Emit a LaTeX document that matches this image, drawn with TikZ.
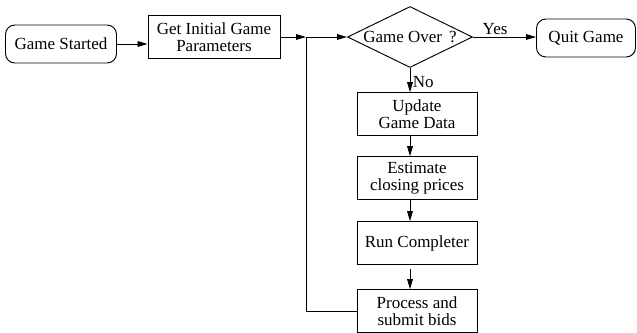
\documentclass[tikz,border=0pt]{standalone}
\usepackage{fontspec}
\setmainfont{Liberation Serif}
\usetikzlibrary{arrows.meta,positioning,shapes.geometric}

\begin{document}
\begin{tikzpicture}[
    x=0.03cm, y=-0.03cm,
    every node/.style={font=\fontsize{14.5}{14.5}\selectfont},
    term/.style={rectangle, rounded corners=8pt, draw, line width=0.8pt, inner sep=1pt},
    proc/.style={rectangle, draw, line width=0.8pt, align=center,
                 minimum width=3.6cm, minimum height=1.28cm, inner sep=1pt},
    dec/.style={diamond, aspect=2, draw, line width=0.8pt, inner sep=0pt,
                minimum width=3.75cm, minimum height=1.83cm},
    e/.style={line width=0.8pt, -{Triangle[length=3mm, width=1.7mm]}},
    ln/.style={line width=0.8pt},
    lbl/.style={inner sep=2pt},
  ]
  \useasboundingbox (0,0) rectangle (637,333);
  \node[term, minimum width=3.33cm, minimum height=1.14cm] (start) at (61,44) {Game Started};
  \node[proc, minimum width=3.96cm, minimum height=1.29cm] (params) at (214,37) {Get Initial Game\\Parameters};
  \coordinate (junc) at (306,37);
  \node[dec] (over) at (410,37) {Game Over\,\ ?};
  \node[term, minimum width=2.97cm, minimum height=1.14cm] (quit) at (586,38) {Quit Game};
  \node[proc] (update) at (417,114) {Update\\Game Data};
  \node[proc] (estim) at (417,178) {Estimate\\closing prices};
  \node[proc] (runc) at (417,243) {Run Completer};
  \node[proc] (bids) at (417,311) {Process and\\submit bids};
  \draw[e] (start.east) -- (start.east -| params.west);
  \draw[e] (params.east) -- (junc);
  \draw[e] (junc) -- (over.west);
  \draw[e] (over.east) -- node[lbl, above, pos=0.35] {Yes} (quit.west |- over.east);
  \draw[e] (over.south) -- node[lbl, right, pos=0.6] {No} (update.north -| over.south);
  \draw[e] (update.south -| over.south) -- (estim.north -| over.south);
  \draw[e] (estim.south -| over.south) -- (runc.north -| over.south);
  \draw[e, shorten <=4pt] (runc.south -| over.south) -- (bids.north -| over.south);
  \draw[ln] (bids.west) -| (junc);
\end{tikzpicture}
\end{document}
